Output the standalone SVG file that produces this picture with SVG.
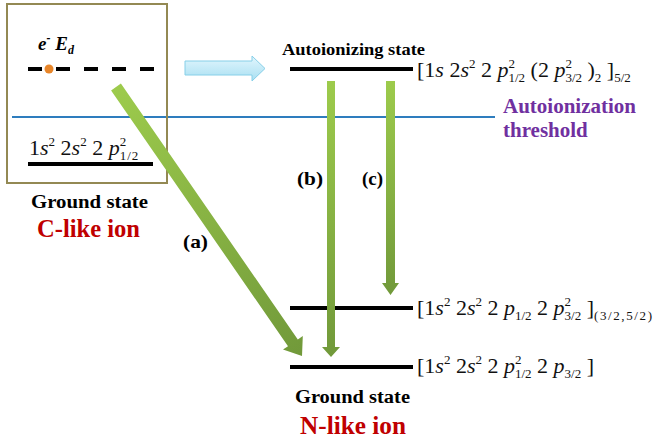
<svg xmlns="http://www.w3.org/2000/svg" width="656" height="444" viewBox="0 0 656 444">
<defs>
<style>
.lvl{stroke:#000;stroke-width:4;fill:none}
.lab{font-family:'Liberation Serif','Times New Roman',serif;font-weight:bold;fill:#000}
.cfg{font-family:'Liberation Serif','Times New Roman',serif;font-size:22px;fill:#111}
.it{font-style:italic}
.sm{font-size:13px}
.red{fill:#C00000}
.pur{fill:#7030A0}
.grn{stroke:none}
</style>
<linearGradient id="gv" x1="0" y1="0" x2="0" y2="1">
<stop offset="0" stop-color="#9DCB4C"/>
<stop offset="1" stop-color="#71993A"/>
</linearGradient>
<linearGradient id="gd" gradientUnits="userSpaceOnUse" x1="116" y1="87" x2="302" y2="356">
<stop offset="0" stop-color="#9DCB4C"/>
<stop offset="1" stop-color="#71993A"/>
</linearGradient>
<linearGradient id="gb" x1="0" y1="0" x2="0" y2="1">
<stop offset="0" stop-color="#E2F6FD"/>
<stop offset="1" stop-color="#A8DFF2"/>
</linearGradient>
</defs>
<rect width="656" height="444" fill="#fff"/>

<g id="threshold">
<line x1="12" y1="117" x2="495" y2="117" stroke="#2E7DBE" stroke-width="2"/>
<text class="lab pur" x="503" y="113" font-size="21">Autoionization</text>
<text class="lab pur" x="503" y="137" font-size="21">threshold</text>
</g>

<g id="c-like-ion">
<rect x="7" y="4" width="160" height="179" fill="none" stroke="#938953" stroke-width="2"/>
<text class="lab" x="38" y="50" font-size="19" font-style="italic">e<tspan font-size="12" dy="-8">-</tspan><tspan dy="8"> E</tspan><tspan font-size="12" dy="4">d</tspan></text>
<line x1="28" y1="69" x2="154" y2="69" class="lvl" stroke-dasharray="14 14"/>
<circle cx="49" cy="69" r="4.5" fill="#E8862A"/>
<text class="cfg" x="29" y="155">1<tspan class="it">s</tspan><tspan class="sm" dy="-9">2</tspan><tspan dy="9"> 2</tspan><tspan class="it">s</tspan><tspan class="sm" dy="-9">2</tspan><tspan dy="9"> 2 </tspan><tspan class="it">p</tspan><tspan class="sm" dy="-9">2</tspan><tspan class="sm" dx="-6.5" dy="14" letter-spacing="1">1/2</tspan></text>
<line x1="28" y1="164" x2="153" y2="164" class="lvl"/>
<text class="lab" x="89.5" y="208" font-size="18" text-anchor="middle" textLength="117" lengthAdjust="spacingAndGlyphs">Ground state</text>
<text class="lab red" x="88.5" y="237" font-size="25" text-anchor="middle" textLength="103" lengthAdjust="spacingAndGlyphs">C-like ion</text>
</g>

<g id="autoionizing-state">
<text class="lab" x="282" y="55" font-size="17" textLength="143" lengthAdjust="spacingAndGlyphs">Autoionizing state</text>
<line x1="290" y1="69" x2="413" y2="69" class="lvl"/>
<text class="cfg" x="417" y="77">[1<tspan class="it">s</tspan> 2<tspan class="it">s</tspan><tspan class="sm" dy="-9">2</tspan><tspan dy="9"> 2 </tspan><tspan class="it">p</tspan><tspan class="sm" dy="-9">2</tspan><tspan class="sm" dx="-6.5" dy="14">1/2</tspan><tspan dy="-5"> (2 </tspan><tspan class="it">p</tspan><tspan class="sm" dy="-9">2</tspan><tspan class="sm" dx="-6.5" dy="14">3/2</tspan><tspan dy="-5"> )</tspan><tspan class="sm" dy="5">2</tspan><tspan dy="-5"> ]</tspan><tspan class="sm" dy="5">5/2</tspan></text>
</g>

<g id="excited-n-level">
<line x1="290" y1="308" x2="413" y2="308" class="lvl"/>
<text class="cfg" x="417" y="315">[1<tspan class="it">s</tspan><tspan class="sm" dy="-9">2</tspan><tspan dy="9"> 2</tspan><tspan class="it">s</tspan><tspan class="sm" dy="-9">2</tspan><tspan dy="9"> 2 </tspan><tspan class="it">p</tspan><tspan class="sm" dy="5">1/2</tspan><tspan dy="-5"> 2 </tspan><tspan class="it">p</tspan><tspan class="sm" dy="-9">2</tspan><tspan class="sm" dx="-6.5" dy="14">3/2</tspan><tspan dy="-5"> ]</tspan><tspan class="sm" dy="5" letter-spacing="1.6">(3/2,5/2)</tspan></text>
</g>

<g id="n-like-ion">
<line x1="290" y1="367" x2="413" y2="367" class="lvl"/>
<text class="cfg" x="417" y="373">[1<tspan class="it">s</tspan><tspan class="sm" dy="-9">2</tspan><tspan dy="9"> 2</tspan><tspan class="it">s</tspan><tspan class="sm" dy="-9">2</tspan><tspan dy="9"> 2 </tspan><tspan class="it">p</tspan><tspan class="sm" dy="-9">2</tspan><tspan class="sm" dx="-6.5" dy="14">1/2</tspan><tspan dy="-5"> 2 </tspan><tspan class="it">p</tspan><tspan class="sm" dy="5">3/2</tspan><tspan dy="-5"> ]</tspan></text>
<text class="lab" x="352.5" y="403" font-size="18" text-anchor="middle" textLength="115" lengthAdjust="spacingAndGlyphs">Ground state</text>
<text class="lab red" x="353" y="434" font-size="25" text-anchor="middle" textLength="106" lengthAdjust="spacingAndGlyphs">N-like ion</text>
</g>

<g id="connectors">
<polygon points="185,61 252,61 252,56 265,68.5 252,81 252,75 185,75" fill="url(#gb)" stroke="#86CFE8" stroke-width="1"/>
<polygon class="grn" fill="url(#gd)" points="120.9,83.6 297.8,339.4 302.8,336 302,356 283,349.6 288,346.2 111.1,90.4"/>
<polygon class="grn" fill="url(#gv)" points="327,81 335,81 335,347 340,347 331,357 322,347 327,347"/>
<polygon class="grn" fill="url(#gv)" points="386,81 395,81 395,283 399,283 390.5,295 382,283 386,283"/>
<text class="lab" x="183" y="248" font-size="19" textLength="25" lengthAdjust="spacingAndGlyphs">(a)</text>
<text class="lab" x="297" y="185" font-size="19" textLength="26" lengthAdjust="spacingAndGlyphs">(b)</text>
<text class="lab" x="362" y="185" font-size="19" textLength="21" lengthAdjust="spacingAndGlyphs">(c)</text>
</g>
</svg>
